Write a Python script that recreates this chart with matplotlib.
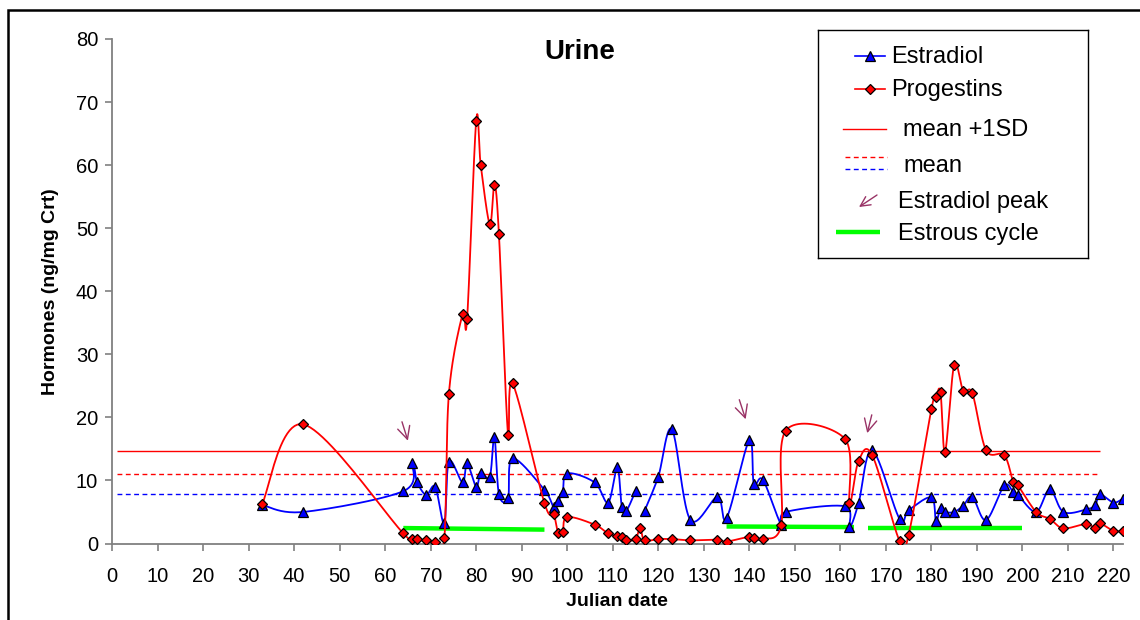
import numpy as np
import matplotlib
matplotlib.use('Agg')
import matplotlib.pyplot as plt
from matplotlib.patches import Rectangle

plt.rcParams['font.family'] = ['Liberation Sans', 'DejaVu Sans']

# sampling days (Julian date)
days = [33, 42, 64, 66, 67, 69, 71, 73, 74, 77, 78, 80, 81, 83, 84, 85, 87, 88,
        95, 97, 98, 99, 100, 106, 109, 111, 112, 113, 115, 116, 117, 120, 123,
        127, 133, 135, 140, 141, 143, 147, 148, 161, 162, 164, 167, 173, 175,
        180, 181, 182, 183, 185, 187, 189, 192, 196, 198, 199, 203, 206, 209,
        214, 216, 217, 220, 222]

estradiol = [6.1, 5.0, 8.3, 12.7, 9.8, 7.7, 9.0, 3.2, 13.0, 9.7, 12.7, 9.0, 11.2,
             10.6, 16.9, 7.8, 7.2, 13.5, 8.5, 5.8, 6.8, 8.1, 11.1, 9.7, 6.5, 12.1,
             5.8, 5.2, 8.3, np.nan, 5.2, 10.6, 18.1, 3.8, 7.4, 4.0, 16.4, 9.5, 10.1,
             3.0, 5.0, 5.9, 2.6, 6.4, 14.8, 3.9, 5.3, 7.3, 3.5, 5.7, 5.0, 5.0, 6.0,
             7.4, 3.7, 9.2, 8.1, 7.7, 5.0, 8.6, 5.0, 5.4, 6.1, 7.8, 6.5, 7.1]

progestins = [6.3, 18.9, 1.6, 0.7, 0.7, 0.5, 0.3, 0.8, 23.7, 36.4, 35.6, 67.0, 60.0,
              50.6, 56.9, 49.0, 17.2, 25.4, 6.4, 4.7, 1.6, 1.9, 4.2, 3.0, 1.6, 1.2,
              1.0, 0.5, 0.7, 2.4, 0.5, 0.7, 0.7, 0.5, 0.6, 0.3, 1.1, 0.8, 0.7, 2.9,
              17.9, 16.6, 6.4, 13.1, 14.0, 0.4, 1.4, 21.3, 23.3, 24.0, 14.5, 28.3,
              24.2, 23.8, 14.8, 14.0, 9.7, 9.2, 5.0, 3.9, 2.4, 3.1, 2.4, 3.2, 2.0, 2.0]

# reference levels
prog_mean_sd = 14.65
prog_mean = 10.95
estr_mean = 7.8
ref_start, ref_end = 1, 217

# estrous cycles: (start day, start level, end day, end level)
cycles = [(64, 2.45, 95, 2.2), (135, 2.7, 163, 2.6), (166, 2.4, 200, 2.4)]

# estradiol peak arrows: tail -> tip
peak_tails = [(63.7, 19.3), (137.8, 22.8), (166.9, 20.4)]
peak_tips = [(65.0, 16.3), (139.2, 19.7), (165.9, 17.5)]

x_ticks = list(range(0, 221, 10))
y_ticks = list(range(0, 81, 10))

PURPLE = '#993366'


def smooth(xs, ys, sx, sy, n=24):
    # bezier smoothing in screen-scaled space, split on gaps
    xs = np.asarray(xs, float)
    ys = np.asarray(ys, float)
    out = []
    ok = ~np.isnan(ys)
    idx = np.where(ok)[0]
    groups = np.split(idx, np.where(np.diff(idx) > 1)[0] + 1)
    for g in groups:
        p = np.column_stack([xs[g] * sx, ys[g] * sy])
        if len(p) < 2:
            continue
        pts = []
        for i in range(len(p) - 1):
            p0 = p[i - 1] if i > 0 else p[i]
            p1, p2 = p[i], p[i + 1]
            p3 = p[i + 2] if i + 2 < len(p) else p[i + 1]
            c1 = p1 + (p2 - p0) / 6
            c2 = p2 - (p3 - p1) / 6
            t = np.linspace(0, 1, n)[:, None]
            seg = ((1 - t) ** 3) * p1 + 3 * ((1 - t) ** 2) * t * c1 \
                + 3 * (1 - t) * t ** 2 * c2 + t ** 3 * p2
            pts.append(seg if i == 0 else seg[1:])
        pts = np.vstack(pts)
        out.append((pts[:, 0] / sx, pts[:, 1] / sy))
    return out


fig = plt.figure(figsize=(11.4, 6.2), dpi=100)
ax = fig.add_axes([112 / 1140, 1 - 543.5 / 620, 1010.6 / 1140, 504.5 / 620])

# screen scale (px per unit) for smoothing
sx, sy = 4.552, 6.31

ax.hlines(prog_mean_sd, ref_start, ref_end, color='red', lw=1.0, zorder=1)
ax.hlines(prog_mean, ref_start, ref_end, color='red', lw=1.0,
          linestyles=(0, (3.5, 2.5)), zorder=1)
ax.hlines(estr_mean, ref_start, ref_end, color='blue', lw=1.0,
          linestyles=(0, (3.5, 2.5)), zorder=1)

for x0, y0, x1, y1 in cycles:
    ax.plot([x0, x1], [y0, y1], color='#00ff00', lw=3.2, zorder=2,
            solid_capstyle='butt')

for cx, cy in smooth(days, estradiol, sx, sy):
    ax.plot(cx, cy, color='blue', lw=1.3, zorder=3)
ax.plot(days, estradiol, ls='none', marker='^', ms=7, mfc='blue',
        mec='black', mew=0.9, zorder=4)

for cx, cy in smooth(days, progestins, sx, sy):
    ax.plot(cx, cy, color='red', lw=1.3, zorder=5)
ax.plot(days, progestins, ls='none', marker='D', ms=5, mfc='red',
        mec='black', mew=0.9, zorder=6)

for tail, tip in zip(peak_tails, peak_tips):
    ax.annotate('', xy=tip, xytext=tail,
                arrowprops=dict(arrowstyle='->,head_length=0.9,head_width=0.45',
                                color=PURPLE, lw=1.0, shrinkA=0, shrinkB=0))

ax.text(102.8, 77.9, 'Urine', ha='center', va='center', fontsize=20,
        fontweight='bold')

ax.set_xlim(0, 222)
ax.set_ylim(0, 80)
ax.set_xticks(x_ticks)
ax.set_yticks(y_ticks)
ax.tick_params(axis='both', direction='out', length=5, width=1.2,
               color='#808080', labelsize=14.5)
ax.tick_params(axis='x', pad=12)
ax.tick_params(axis='y', pad=5)
for side in ['top', 'right']:
    ax.spines[side].set_visible(False)
for side in ['left', 'bottom']:
    ax.spines[side].set_color('#808080')
    ax.spines[side].set_linewidth(1.3)
ax.set_xlabel('Julian date', fontsize=14, fontweight='bold', labelpad=5)
ax.set_ylabel('Hormones (ng/mg Crt)', fontsize=14, fontweight='bold',
              labelpad=12)

# legend box drawn in pixel coordinates
lg = fig.add_axes([818 / 1140, 1 - 258 / 620, 270 / 1140, 228 / 620])
lg.set_xlim(818, 1088)
lg.set_ylim(258, 30)
lg.set_xticks([])
lg.set_yticks([])
for s in lg.spines.values():
    s.set_color('black')
    s.set_linewidth(1.0)

lg.plot([855, 885], [56, 56], color='blue', lw=1.2)
lg.plot([870], [56], marker='^', ms=7, mfc='blue', mec='black', mew=0.9)
lg.text(891, 57, 'Estradiol', va='center', fontsize=17)
lg.plot([855, 885], [89, 89], color='red', lw=1.2)
lg.plot([870], [89], marker='D', ms=5, mfc='red', mec='black', mew=0.9)
lg.text(891, 90, 'Progestins', va='center', fontsize=17)
lg.plot([843, 886], [129, 129], color='red', lw=1.0)
lg.text(903, 130, 'mean +1SD', va='center', fontsize=17)
lg.plot([845, 887], [157, 157], color='red', lw=1.0, ls=(0, (3.5, 2.5)))
lg.plot([845, 887], [169, 169], color='blue', lw=1.0, ls=(0, (3.5, 2.5)))
lg.text(903, 166, 'mean', va='center', fontsize=17)
lg.annotate('', xy=(859, 207), xytext=(877, 195),
            arrowprops=dict(arrowstyle='->,head_length=0.7,head_width=0.35',
                            color=PURPLE, lw=1.0, shrinkA=0, shrinkB=0))
lg.text(898, 202, 'Estradiol peak', va='center', fontsize=17)
lg.plot([836, 880], [232, 232], color='#00ff00', lw=3.2, solid_capstyle='butt')
lg.text(898, 234, 'Estrous cycle', va='center', fontsize=17)

# outer frame
fig.patches.append(Rectangle((7.5 / 1140, -0.05), 1.1, 1 - 10 / 620 + 0.05,
                             transform=fig.transFigure, fill=False,
                             edgecolor='black', lw=1.8, clip_on=False))

fig.savefig('out.png', dpi=100)
